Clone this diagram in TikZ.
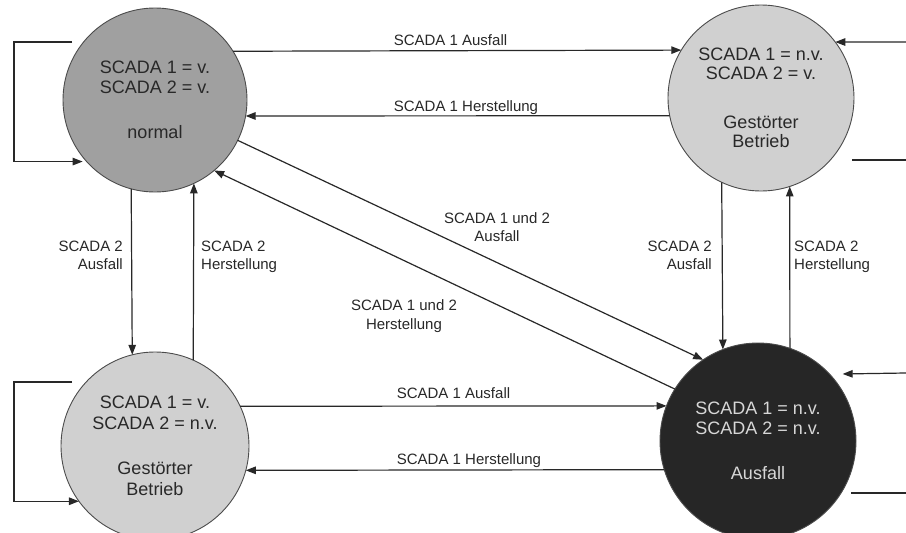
\documentclass[tikz,border=0pt]{standalone}
\usepackage{fontspec}
\setmainfont{Liberation Sans}
\usetikzlibrary{arrows.meta}

\definecolor{ink}{RGB}{40,40,40}
\definecolor{rim}{RGB}{75,75,75}
\definecolor{midfill}{RGB}{160,160,160}
\definecolor{lightfill}{RGB}{208,208,208}
\definecolor{darkfill}{RGB}{38,38,38}
\definecolor{lighttext}{RGB}{215,215,215}

\tikzset{
  state/.style={circle, draw=rim, line width=0.9pt, inner sep=0pt, outer sep=0pt,
    align=center, text=ink, font=\fontsize{18}{19.5}\selectfont},
  flow/.style={draw=ink, line width=1.2pt, -{Triangle[length=10pt,width=7.5pt]}},
  wire/.style={draw=ink, line width=1.2pt},
  lab/.style={font=\fontsize{15}{18}\selectfont, text=ink, inner sep=0pt},
}

\begin{document}
\begin{tikzpicture}[x=1pt,y=-1pt]
\useasboundingbox (0,0) rectangle (906,533);
\clip (0,0) rectangle (906,533);
\fill[white] (0,0) rectangle (906,533);

% states
\node[state, fill=midfill, minimum size=184pt] (N) at (155,100)
  {SCADA 1 = v.\\SCADA 2 = v.\\[25.5pt]normal};
\node[state, fill=lightfill, minimum size=186pt] (G1) at (761,98)
  {SCADA 1 = n.v.\\SCADA 2 = v.\\[29pt]Gestörter\\Betrieb};
\node[state, fill=lightfill, minimum size=188pt, font=\fontsize{18}{21}\selectfont] (G2) at (155,446)
  {SCADA 1 = v.\\SCADA 2 = n.v.\\[24pt]Gestörter\\Betrieb};
\node[state, fill=darkfill, text=lighttext, minimum size=196pt] (A) at (758,441)
  {SCADA 1 = n.v.\\SCADA 2 = n.v.\\[26pt]Ausfall};

% transitions between states
\draw[flow] (N.32.1) -- (G1.149.6);
\draw[flow] (G1.191.2) -- (N.-10);
\draw[flow] (N.255.5) -- (G2.104.2);
\draw[flow] (G2.66.2) -- (N.-65.6);
\draw[flow] (N.-26) -- (A.124.3);
\draw[flow] (A.148) -- (N.-50.8);
\draw[flow] (G1.245.2) -- (A.111.6);
\draw[flow] (A.71.6) -- (G1.-72.5);
\draw[flow] (G2.25.2) -- (A.159);
\draw[flow] (A.197.8) -- (G2.-15.4);

% self loops
\coordinate (nloop) at (72,42);
\draw[flow, shorten >=4pt] (nloop) -- ++(-58,0) |- (N.222.4);
\coordinate (gloop) at (72,382);
\draw[flow] (gloop) -- ++(-58,0) |- (G2.216.6);
\coordinate (g1in) at (906,42);
\draw[flow] (g1in) -- (G1.37);
\coordinate (g1out) at (852,160);
\draw[wire] (g1out) -- ++(54,0);
\coordinate (ain) at (906,373);
\draw[flow, shorten >=13pt] (ain) -- (A.43.9);
\coordinate (aout) at (851,493);
\draw[wire] (aout) -- ++(55,0);

% transition labels
\node[lab, anchor=base] (l1) at (450.5,45.5) {SCADA 1 Ausfall};
\node[lab, anchor=base] (l2) at (466,111) {SCADA 1 Herstellung};
\node[lab, anchor=base] (l3) at (453.5,398) {SCADA 1 Ausfall};
\node[lab, anchor=base] (l4) at (469,464) {SCADA 1 Herstellung};
\node[lab, anchor=north east, align=right] (l5) at (123,241) {SCADA 2\\Ausfall};
\node[lab, anchor=north west, align=left] (l6) at (201,241) {SCADA 2\\Herstellung};
\node[lab, anchor=north east, align=right] (l7) at (712,241) {SCADA 2\\Ausfall};
\node[lab, anchor=north west, align=left] (l8) at (794,241) {SCADA 2\\Herstellung};
\node[lab, anchor=north, align=center] (l9) at (497,212) {SCADA 1 und 2\\Ausfall};
\node[lab, anchor=north, align=center, font=\fontsize{15}{19.5}\selectfont] (l10) at (404,299) {SCADA 1 und 2\\Herstellung};
\end{tikzpicture}
\end{document}
